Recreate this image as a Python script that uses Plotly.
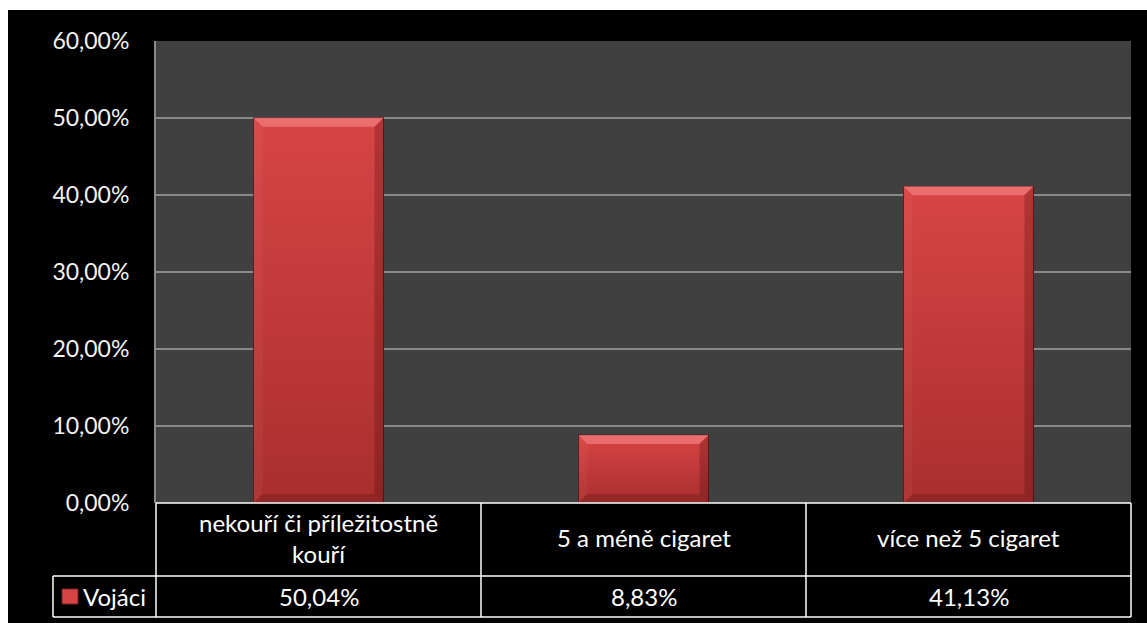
import plotly.graph_objects as go

# Data
categories = ["nekouří či příležitostně<br>kouří", "5 a méně cigaret", "více než 5 cigaret"]
series_name = "Vojáci"
values = [50.04, 8.83, 41.13]
y_ticks = [0, 10, 20, 30, 40, 50, 60]
y_tick_labels = [f"{t:.2f}".replace(".", ",") + "%" for t in y_ticks]

# Canvas geometry (pixels)
W, H = 1147, 623
ML, MR, MT, MB = 156, 16, 41, 120
PW, PH = W - ML - MR, H - MT - MB
Y_MAX = 60
BAR_W = 0.4

FONT = "Lato"
FONT_SIZE = 24
BAR_COLOR = "#D84444"
GRID = "#8a8a8a"


def px_x(px):
    return (px - ML) / PW


def px_y(py):
    return (H - MB - py) / PH


fig = go.Figure()

idx = list(range(len(values)))
fig.add_trace(go.Bar(
    x=idx, y=values, width=BAR_W, name=series_name,
    marker=dict(color=BAR_COLOR, line=dict(color="#5a1c1c", width=1)),
    showlegend=False, hoverinfo="skip",
))

# vertical shading on each bar
for i, v in zip(idx, values):
    x0, x1 = i - BAR_W / 2, i + BAR_W / 2
    fig.add_trace(go.Scatter(
        x=[x0, x1, x1, x0, x0], y=[0, 0, v, v, 0],
        mode="lines", line=dict(width=0), fill="toself",
        fillgradient=dict(type="vertical", start=0, stop=v,
                          colorscale=[[0, "rgba(70,0,0,0.32)"], [1, "rgba(70,0,0,0)"]]),
        showlegend=False, hoverinfo="skip",
    ))

# bevel edges of each bar
bx = 9 / (PW / len(values))
by = 9 * Y_MAX / PH
shapes = []
for i, v in zip(idx, values):
    x0, x1 = i - BAR_W / 2, i + BAR_W / 2
    bevels = [
        (f"M{x0},{v} L{x1},{v} L{x1-bx},{v-by} L{x0+bx},{v-by} Z", "rgba(255,150,150,0.5)"),
        (f"M{x0},0 L{x0},{v} L{x0+bx},{v-by} L{x0+bx},{by} Z", "rgba(255,180,180,0.06)"),
        (f"M{x1},0 L{x1},{v} L{x1-bx},{v-by} L{x1-bx},{by} Z", "rgba(40,0,0,0.22)"),
        (f"M{x0},0 L{x1},0 L{x1-bx},{by} L{x0+bx},{by} Z", "rgba(40,0,0,0.18)"),
    ]
    for path, col in bevels:
        shapes.append(dict(type="path", xref="x", yref="y", path=path,
                           fillcolor=col, line=dict(width=0), layer="above"))

# white page strips around the black chart area
shapes.append(dict(type="rect", xref="paper", yref="paper",
                   x0=px_x(0), x1=px_x(W), y0=px_y(10), y1=px_y(0),
                   fillcolor="white", line=dict(width=0), layer="above"))
shapes.append(dict(type="rect", xref="paper", yref="paper",
                   x0=px_x(0), x1=px_x(8), y0=px_y(H), y1=px_y(0),
                   fillcolor="white", line=dict(width=0), layer="above"))

# data table below the plot
row1_top, row1_bot, row2_bot = H - MB, 576, 617
col_edges = [ML + PW * k / len(values) for k in range(len(values) + 1)]
legend_left = 53
line_style = dict(color="white", width=1.5)


def hline(px0, px1, py):
    return dict(type="line", xref="paper", yref="paper",
                x0=px_x(px0), x1=px_x(px1), y0=px_y(py), y1=px_y(py), line=line_style)


def vline(px, py0, py1):
    return dict(type="line", xref="paper", yref="paper",
                x0=px_x(px), x1=px_x(px), y0=px_y(py0), y1=px_y(py1), line=line_style)


shapes.append(hline(ML, W - MR, row1_top))
shapes.append(hline(legend_left, W - MR, row1_bot))
shapes.append(hline(legend_left, W - MR, row2_bot))
shapes.append(vline(legend_left, row1_bot, row2_bot))
for ce in col_edges:
    shapes.append(vline(ce, row1_top, row2_bot))

# legend key square
shapes.append(dict(type="rect", xref="paper", yref="paper",
                   x0=px_x(62), x1=px_x(78), y0=px_y(604), y1=px_y(589),
                   fillcolor=BAR_COLOR, line=dict(color="#7a2424", width=1)))

text_font = dict(family=FONT, size=FONT_SIZE, color="white")
annotations = []
for k, (cat, v) in enumerate(zip(categories, values)):
    cx = (col_edges[k] + col_edges[k + 1]) / 2
    annotations.append(dict(
        x=px_x(cx), y=px_y((row1_top + row1_bot) / 2 - 2), xref="paper", yref="paper",
        text=cat, showarrow=False, xanchor="center", yanchor="middle",
        font=text_font,
    ))
    annotations.append(dict(
        x=px_x(cx), y=px_y((row1_bot + row2_bot) / 2), xref="paper", yref="paper",
        text=f"{v:.2f}".replace(".", ",") + "%", showarrow=False,
        xanchor="center", yanchor="middle",
        font=text_font,
    ))
annotations.append(dict(
    x=px_x(81), y=px_y((row1_bot + row2_bot) / 2), xref="paper", yref="paper",
    text=series_name, showarrow=False, xanchor="left", yanchor="middle",
    font=text_font,
))

fig.update_layout(
    width=W, height=H,
    margin=dict(l=ML, r=MR, t=MT, b=MB, autoexpand=False),
    paper_bgcolor="black", plot_bgcolor="#404040",
    showlegend=False,
    shapes=shapes, annotations=annotations,
    xaxis=dict(range=[-0.5, len(values) - 0.5], showticklabels=False,
               showgrid=False, zeroline=False, fixedrange=True),
    yaxis=dict(range=[0, Y_MAX], tickmode="array", tickvals=y_ticks, ticktext=y_tick_labels,
               showgrid=True, gridcolor=GRID, gridwidth=2, zeroline=False,
               showline=True, linecolor=GRID, linewidth=2,
               ticks="", ticklabelstandoff=20,
               tickfont=dict(family=FONT, size=23, color="#f2f2f2")),
)

fig.write_html("out.html")
